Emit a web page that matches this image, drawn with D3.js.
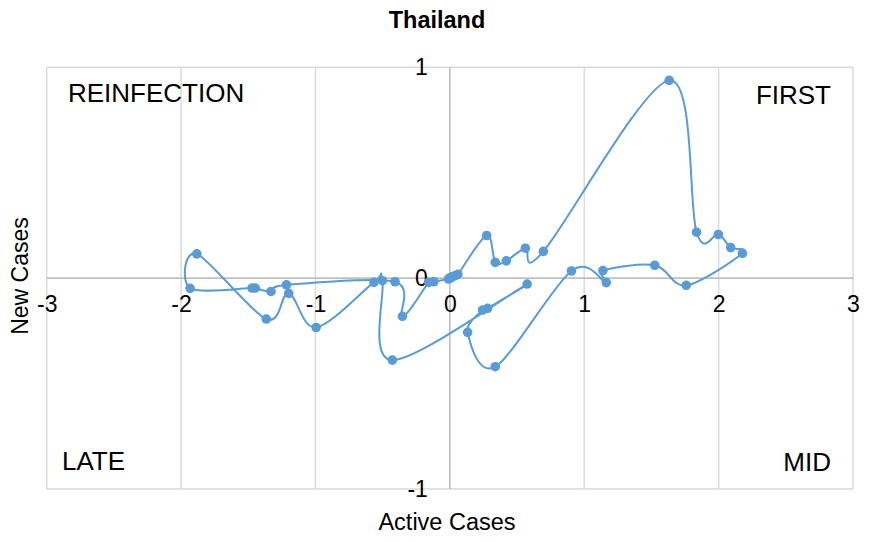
<!DOCTYPE html>
<html>
<head>
<meta charset="utf-8">
<script src="https://cdn.jsdelivr.net/npm/d3@7"></script>
<style>
  html, body { margin: 0; padding: 0; background: #fff; }
  svg { display: block; font-family: "Liberation Sans", Arial, sans-serif; }
</style>
</head>
<body>
<svg id="chart" width="876" height="542"></svg>
<script>
// ---- data (in trajectory order) ----
const activeCases = [
  0.00, 0.00, 0.01, 0.02, 0.04, 0.06,
  0.274, 0.338, 0.420, 0.562, 0.696,
  1.632, 1.836, 1.998, 2.090, 2.177,
  1.759, 1.525, 1.139, 1.164, 0.905,
  0.338, 0.132, 0.244, 0.281, 0.575,
  -0.428, -0.502, -0.565, -0.995, -1.199, -1.366,
  -1.883, -1.933, -1.472, -1.448, -1.331, -1.216,
  -0.408, -0.353, -0.157, -0.119, -0.01
];
const newCases = [
  0.000, 0.000, 0.003, 0.008, 0.012, 0.018,
  0.202, 0.075, 0.082, 0.142, 0.127,
  0.938, 0.218, 0.207, 0.145, 0.118,
  -0.034, 0.061, 0.036, -0.021, 0.034,
  -0.420, -0.257, -0.151, -0.143, -0.028,
  -0.389, -0.012, -0.020, -0.234, -0.072, -0.194,
  0.115, -0.048, -0.047, -0.047, -0.063, -0.032,
  -0.017, -0.181, -0.020, -0.017, -0.004
];
const xTicks = [-3, -2, -1, 0, 1, 2, 3];
const yTicks = [-1, 0, 1];
const quadrantLabels = ["REINFECTION", "FIRST", "LATE", "MID"];
const chartTitle = "Thailand";
const xTitle = "Active Cases";
const yTitle = "New Cases";

// ---- layout ----
const W = 876, H = 542;
const plot = { left: 46.7, right: 853, top: 67.3, bottom: 489 };
const color = "#5B9BD5";
const fmt = d => String(d); // plain hyphen-minus like the reference

const svg = d3.select("#chart");
const x = d3.scaleLinear().domain([-3, 3]).range([plot.left, plot.right]);
const y = d3.scaleLinear().domain([-1, 1]).range([plot.bottom, plot.top]);

// gridlines (non-zero first, then zero axes on top)
const grid = svg.append("g");
grid.selectAll("line.vx").data(xTicks.filter(d => d !== 0)).join("line")
  .attr("x1", d => x(d)).attr("x2", d => x(d))
  .attr("y1", plot.top).attr("y2", plot.bottom)
  .attr("stroke", "#d9d9d9").attr("stroke-width", 1.4);
grid.selectAll("line.hy").data(yTicks.filter(d => d !== 0)).join("line")
  .attr("x1", plot.left).attr("x2", plot.right)
  .attr("y1", d => y(d)).attr("y2", d => y(d))
  .attr("stroke", "#d9d9d9").attr("stroke-width", 1.4);
grid.append("line")
  .attr("x1", x(0)).attr("x2", x(0)).attr("y1", plot.top).attr("y2", plot.bottom)
  .attr("stroke", "#bfbfbf").attr("stroke-width", 1.6);
grid.append("line")
  .attr("x1", plot.left).attr("x2", plot.right).attr("y1", y(0)).attr("y2", y(0))
  .attr("stroke", "#bfbfbf").attr("stroke-width", 1.6);

// tick labels
const xAxisG = svg.append("g").attr("transform", `translate(0,${y(0)})`)
  .call(d3.axisBottom(x).tickValues(xTicks).tickFormat(fmt).tickSize(0).tickPadding(18));
xAxisG.select(".domain").remove();
xAxisG.selectAll("text").attr("font-size", 23).attr("fill", "#000")
  .attr("font-family", "Liberation Sans, Arial, sans-serif");

const yAxisG = svg.append("g").attr("transform", `translate(${x(0) - 22},0)`)
  .call(d3.axisLeft(y).tickValues(yTicks).tickFormat(fmt).tickSize(0).tickPadding(0));
yAxisG.select(".domain").remove();
yAxisG.selectAll("text").attr("font-size", 23).attr("fill", "#000")
  .attr("font-family", "Liberation Sans, Arial, sans-serif")
  .attr("text-anchor", "end").attr("dx", 0);

// series
const pts = activeCases.map((v, i) => [v, newCases[i]]);
const line = d3.line().x(d => x(d[0])).y(d => y(d[1])).curve(d3.curveCatmullRom.alpha(0));
svg.append("path").datum(pts).attr("d", line)
  .attr("fill", "none").attr("stroke", color).attr("stroke-width", 2);
svg.append("g").selectAll("circle").data(pts).join("circle")
  .attr("cx", d => x(d[0])).attr("cy", d => y(d[1])).attr("r", 4.8)
  .attr("fill", color);

// quadrant labels
const qPos = [
  { x: 68, y: 102, anchor: "start" },
  { x: 831, y: 104, anchor: "end" },
  { x: 62, y: 470, anchor: "start" },
  { x: 831, y: 471, anchor: "end" }
];
svg.append("g").selectAll("text").data(quadrantLabels).join("text")
  .attr("x", (d, i) => qPos[i].x).attr("y", (d, i) => qPos[i].y)
  .attr("text-anchor", (d, i) => qPos[i].anchor)
  .attr("font-size", 26).attr("fill", "#000").text(d => d);

// titles
svg.append("text").attr("x", 437).attr("y", 28).attr("text-anchor", "middle")
  .attr("font-size", 23.5).attr("font-weight", "bold").attr("fill", "#000").text(chartTitle);
svg.append("text").attr("x", 447).attr("y", 530).attr("text-anchor", "middle")
  .attr("font-size", 23.5).attr("fill", "#000").text(xTitle);
svg.append("text").attr("transform", `translate(28,276) rotate(-90)`).attr("text-anchor", "middle")
  .attr("font-size", 23).attr("fill", "#000").text(yTitle);
</script>
</body>
</html>
